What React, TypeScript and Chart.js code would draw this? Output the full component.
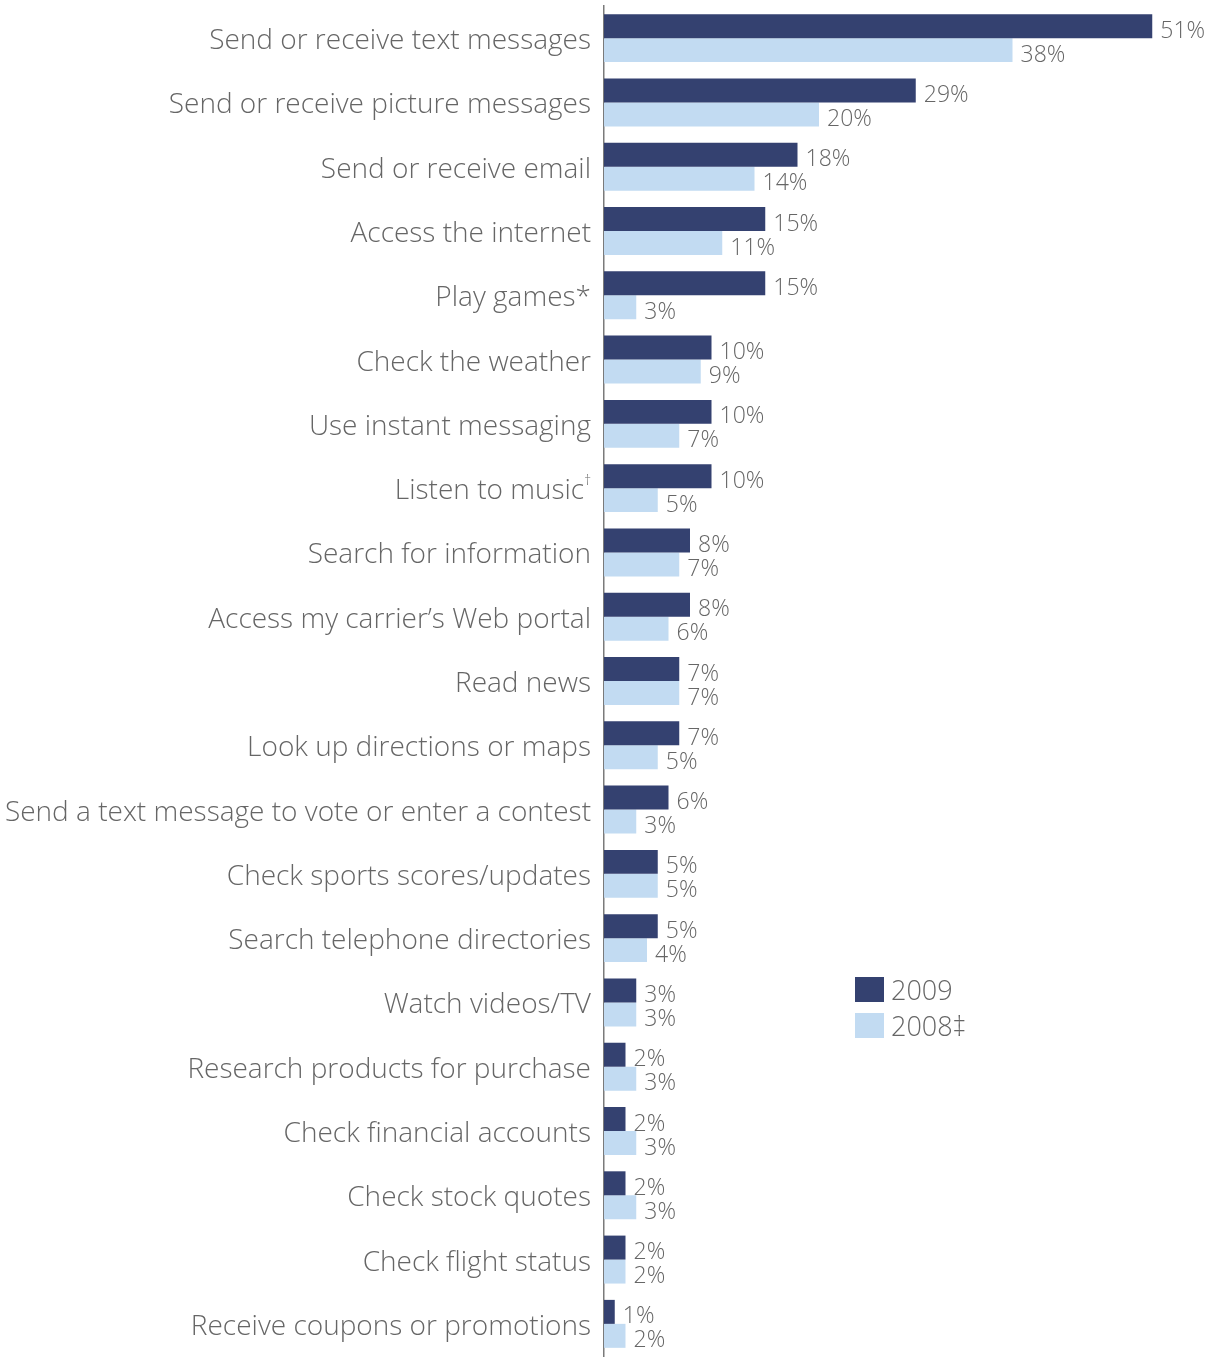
import React, { useEffect, useRef } from "react";
import { Chart, registerables } from "chart.js";

Chart.register(...registerables);

const categories = [
  "Send or receive text messages",
  "Send or receive picture messages",
  "Send or receive email",
  "Access the internet",
  "Play games*",
  "Check the weather",
  "Use instant messaging",
  "Listen to music\u2020",
  "Search for information",
  "Access my carrier\u2019s Web portal",
  "Read news",
  "Look up directions or maps",
  "Send a text message to vote or enter a contest",
  "Check sports scores/updates",
  "Search telephone directories",
  "Watch videos/TV",
  "Research products for purchase",
  "Check financial accounts",
  "Check stock quotes",
  "Check flight status",
  "Receive coupons or promotions",
];

const values2009 = [51, 29, 18, 15, 15, 10, 10, 10, 8, 8, 7, 7, 6, 5, 5, 3, 2, 2, 2, 2, 1];
const values2008 = [38, 20, 14, 11, 3, 9, 7, 5, 7, 6, 7, 5, 3, 5, 4, 3, 3, 3, 3, 2, 2];

const seriesNames = ["2009", "2008\u2021"];
const DARK = "#344170";
const LIGHT = "#c2dbf2";
const TEXT = "#666666";
const FONT = "'Open Sans', sans-serif";

const valueLabels = {
  id: "valueLabels",
  afterDatasetsDraw(chart: any) {
    const ctx = chart.ctx;
    ctx.save();
    ctx.font = `300 23px ${FONT}`;
    ctx.fillStyle = TEXT;
    ctx.textAlign = "left";
    ctx.textBaseline = "middle";
    chart.data.datasets.forEach((ds: any, di: number) => {
      const meta = chart.getDatasetMeta(di);
      meta.data.forEach((bar: any, i: number) => {
        ctx.fillText(`${ds.data[i]}%`, bar.x + 8, bar.y + 5);
      });
    });
    ctx.restore();
  },
};

const categoryLabels = {
  id: "categoryLabels",
  afterDraw(chart: any) {
    const ctx = chart.ctx;
    const scale = chart.scales.y;
    const right = scale.right - 13;
    ctx.save();
    ctx.fillStyle = TEXT;
    ctx.textBaseline = "middle";
    ctx.textAlign = "right";
    (chart.data.labels as string[]).forEach((label, i) => {
      const y = scale.getPixelForTick(i) + 3;
      if (label.endsWith("\u2020")) {
        ctx.font = `300 14px ${FONT}`;
        const dw = ctx.measureText("\u2020").width;
        ctx.fillText("\u2020", right, y - 10);
        ctx.font = `300 28px ${FONT}`;
        ctx.fillText(label.slice(0, -1), right - dw, y);
      } else {
        ctx.font = `300 28px ${FONT}`;
        ctx.fillText(label, right, y);
      }
    });
    ctx.restore();
  },
};

export default function App() {
  const ref = useRef<HTMLCanvasElement | null>(null);

  useEffect(() => {
    if (!ref.current) return;
    const chart = new Chart(ref.current, {
      type: "bar",
      data: {
        labels: categories,
        datasets: [
          { label: seriesNames[0], data: values2009, backgroundColor: DARK, barPercentage: 1, categoryPercentage: 0.746 },
          { label: seriesNames[1], data: values2008, backgroundColor: LIGHT, barPercentage: 1, categoryPercentage: 0.746 },
        ],
      },
      options: {
        indexAxis: "y",
        animation: false,
        responsive: false,
        maintainAspectRatio: false,
        layout: { padding: { top: 6, bottom: 1, right: 6, left: 0 } },
        plugins: { legend: { display: false }, tooltip: { enabled: false } },
        scales: {
          x: { display: false, min: 0, max: 56 },
          y: {
            grid: { display: false, drawTicks: false },
            border: { display: true, color: "#7a7a7a", width: 1.5 },
            ticks: { display: false },
            afterFit(scale: any) {
              scale.width = 604;
              scale.paddingTop = 0;
              scale.paddingBottom = 0;
            },
          },
        },
      },
      plugins: [valueLabels, categoryLabels],
    });
    return () => chart.destroy();
  }, []);

  const legendItem = (color: string, label: string, top: number) => (
    <div style={{ position: "absolute", left: 855, top, display: "flex", alignItems: "center" }}>
      <div style={{ width: 29, height: 25, background: color }} />
      <span style={{ marginLeft: 7, fontFamily: FONT, fontWeight: 300, fontSize: 27, color: TEXT, lineHeight: "25px" }}>{label}</span>
    </div>
  );

  return (
    <div style={{ position: "absolute", left: 0, top: 0, width: 1212, height: 1357, background: "#fff" }}>
      <canvas ref={ref} width={1212} height={1357} style={{ display: "block" }} />
      {legendItem(DARK, seriesNames[0], 977)}
      {legendItem(LIGHT, seriesNames[1], 1013)}
    </div>
  );
}
